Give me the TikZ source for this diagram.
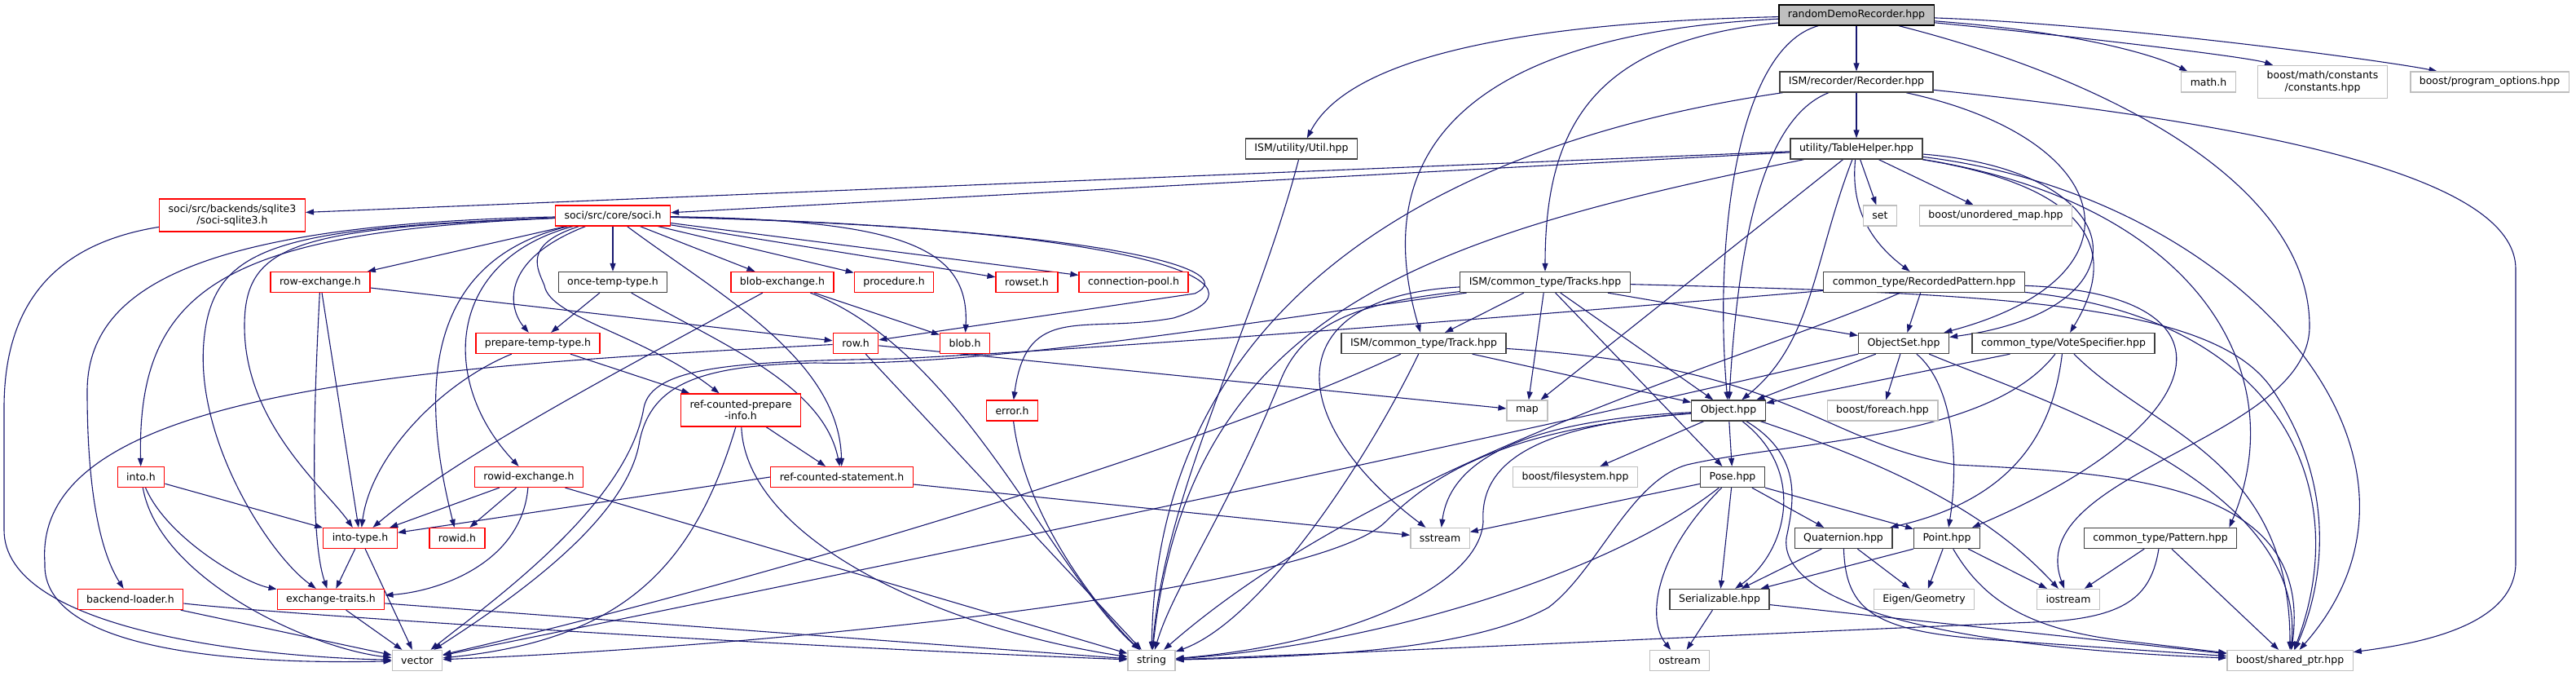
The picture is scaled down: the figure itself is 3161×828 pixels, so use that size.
\documentclass[tikz,border=0pt]{standalone}
\usepackage{fontspec}
\setmainfont{DejaVu Sans}
\usetikzlibrary{arrows.meta}
\definecolor{edgec}{HTML}{191970}
\definecolor{darkb}{HTML}{404040}
\definecolor{lightb}{HTML}{BFBFBF}
\pgfdeclarelayer{bg}
\pgfsetlayers{bg,main}
\begin{document}
\begin{tikzpicture}[x=1pt,y=-1pt,
  nbox/.style={draw, line width=1.3pt, font=\fontsize{12.5pt}{14.5pt}\selectfont, inner xsep=11pt, inner ysep=2pt, minimum height=25pt, fill=white, text=black},
  dk/.style={nbox, draw=darkb},
  rd/.style={nbox, draw=red},
  lt/.style={nbox, draw=lightb},
  rt/.style={nbox, draw=black, fill=lightb},
  two/.style={align=center, minimum height=40pt},
  edg/.style={draw=edgec, line width=1.1pt, -{Triangle[length=10pt,width=7pt]}}
]
\useasboundingbox (0,0) rectangle (3161,828);
% nodes
\node[rt] (R0) at (2278,18.5) {randomDemoRecorder.hpp};
\node[dk] (rec) at (2278,100.5) {ISM/recorder/Recorder.hpp};
\node[dk] (th) at (2278,182.5) {utility/TableHelper.hpp};
\node[dk] (util) at (1597,182.5) {ISM/utility/Util.hpp};
\node[lt] (mathh) at (2710,100.5) {math.h};
\node[lt,two] (const) at (2850,100.5) {boost/math/constants\\/constants.hpp};
\node[lt] (popt) at (3055,100.5) {boost/program\_options.hpp};
\node[rd,two] (sqlite) at (285,264) {soci/src/backends/sqlite3\\/soci-sqlite3.h};
\node[rd] (soci) at (752,264.5) {soci/src/core/soci.h};
\node[lt] (set) at (2307,264.5) {set};
\node[lt] (umap) at (2449,264.5) {boost/unordered\_map.hpp};
\node[rd] (rowex) at (393,346) {row-exchange.h};
\node[dk] (once) at (752,346) {once-temp-type.h};
\node[rd] (blobex) at (960,346) {blob-exchange.h};
\node[rd] (proc) at (1097,346) {procedure.h};
\node[rd] (rowset) at (1260,346) {rowset.h};
\node[rd] (cpool) at (1391,346) {connection-pool.h};
\node[dk] (tracks) at (1896,346) {ISM/common\_type/Tracks.hpp};
\node[dk] (recpat) at (2361,346) {common\_type/RecordedPattern.hpp};
\node[rd] (prep) at (660,421) {prepare-temp-type.h};
\node[rd] (row) at (1050,421) {row.h};
\node[rd] (blob) at (1184,421) {blob.h};
\node[dk] (track) at (1747,421) {ISM/common\_type/Track.hpp};
\node[dk] (objset) at (2336,421) {ObjectSet.hpp};
\node[dk] (vote) at (2532,421) {common\_type/VoteSpecifier.hpp};
\node[rd,two] (rcpi) at (909,503) {ref-counted-prepare\\-info.h};
\node[rd] (error) at (1242,503.5) {error.h};
\node[lt] (map) at (1874,503.5) {map};
\node[dk] (object) at (2121,503.5) {Object.hpp};
\node[lt] (foreach) at (2310,503.5) {boost/foreach.hpp};
\node[rd] (into) at (173,585) {into.h};
\node[rd] (rowidex) at (649,585) {rowid-exchange.h};
\node[rd] (rcs) at (1033,585) {ref-counted-statement.h};
\node[lt] (fs) at (1933,585) {boost/filesystem.hpp};
\node[dk] (pose) at (2126,585) {Pose.hpp};
\node[rd] (intotype) at (442,660) {into-type.h};
\node[rd] (rowid) at (561,660) {rowid.h};
\node[lt] (sstream) at (1767,660) {sstream};
\node[dk] (quat) at (2262,660) {Quaternion.hpp};
\node[dk] (point) at (2389,660) {Point.hpp};
\node[dk] (pattern) at (2651,660) {common\_type/Pattern.hpp};
\node[rd] (bload) at (160,735) {backend-loader.h};
\node[rd] (extr) at (406,735) {exchange-traits.h};
\node[dk] (serial) at (2110,735) {Serializable.hpp};
\node[lt] (eigen) at (2361,735) {Eigen/Geometry};
\node[lt] (iostream) at (2538,735) {iostream};
\node[lt] (vector) at (512,810) {vector};
\node[lt] (string) at (1413,810) {string};
\node[lt] (ostream) at (2061,810) {ostream};
\node[lt] (sptr) at (2810,810) {boost/shared\_ptr.hpp};

\begin{pgfonlayer}{bg}
% randomDemoRecorder
\draw[edg] (R0) .. controls (1760,30) and (1640,100) .. (util);
\draw[edg] (R0) .. controls (1740,45) and (1690,230) .. (track);
\draw[edg] (R0) .. controls (1960,50) and (1896,150) .. (tracks);
\draw[edg] (R0) .. controls (2130,60) and (2103,300) .. (object);
\draw[edg] (R0) -- (rec);
\draw[edg] (R0) .. controls (2600,100) and (2834,230) .. (2834,400) .. controls (2834,540) and (2480,580) .. (iostream);
\draw[edg] (R0) .. controls (2560,40) and (2650,70) .. (mathh);
\draw[edg] (R0) .. controls (2550,45) and (2760,70) .. (const);
\draw[edg] (R0) .. controls (2600,30) and (2930,75) .. (popt);
% Recorder
\draw[edg] (rec) -- (th);
\draw[edg] (rec) .. controls (1800,170) and (1420,350) .. (string);
\draw[edg] (rec) .. controls (2150,150) and (2130,350) .. (object);
\draw[edg] (rec) .. controls (2600,170) and (2640,340) .. (objset);
\draw[edg] (rec) .. controls (2850,160) and (3087,230) .. (3087,330) -- (3087,690) .. controls (3087,770) and (2960,790) .. (sptr);
% TableHelper
\draw[edg] (th) -- (sqlite);
\draw[edg] (th) -- (soci);
\draw[edg] (th) -- (set);
\draw[edg] (th) -- (umap);
\draw[edg] (th) .. controls (2270,260) and (2300,300) .. (recpat);
\draw[edg] (th) .. controls (1750,290) and (1460,380) .. (string);
\draw[edg] (th) -- (map);
\draw[edg] (th) .. controls (2225,320) and (2225,420) .. (object);
\draw[edg] (th) .. controls (2620,210) and (2640,380) .. (objset);
\draw[edg] (th) .. controls (2570,230) and (2600,310) .. (vote);
\draw[edg] (th) .. controls (2700,250) and (2815,460) .. ([xshift=-10pt]pattern.north east);
\draw[edg] (th) .. controls (2750,240) and (3030,560) .. (sptr);
% Util
\draw[edg] (util) .. controls (1540,400) and (1430,600) .. (string);
% sqlite
\draw[edg] (sqlite) .. controls (60,300) and (5,380) .. (5,500) -- (5,650) .. controls (5,770) and (300,805) .. (vector);
% soci.h
\draw[edg] (soci) .. controls (250,275) and (107,350) .. (107,480) .. controls (107,610) and (125,680) .. (bload);
\draw[edg] (soci) .. controls (280,285) and (168,350) .. (into);
\draw[edg] (soci) .. controls (340,280) and (260,300) .. (250,420) .. controls (240,540) and (330,680) .. (extr);
\draw[edg] (soci) .. controls (360,280) and (300,300) .. (300,400) .. controls (300,520) and (400,600) .. (intotype);
\draw[edg] (soci) -- (rowex);
\draw[edg] (soci) .. controls (520,320) and (515,480) .. (rowid);
\draw[edg] (soci) .. controls (545,320) and (540,470) .. (rowidex);
\draw[edg] (soci) .. controls (610,320) and (625,380) .. (prep);
\draw[edg] (soci) .. controls (640,300) and (660,330) .. (668,350) .. controls (675,390) and (790,410) .. (rcpi);
\draw[edg] (soci) -- (once);
\draw[edg] (soci) .. controls (880,360) and (1030,440) .. (rcs);
\draw[edg] (soci) -- (blobex);
\draw[edg] (soci) -- (proc);
\draw[edg] (soci) -- (rowset);
\draw[edg] (soci) -- (cpool);
\draw[edg] (soci) .. controls (1100,270) and (1190,300) .. (blob);
\draw[edg] (soci) .. controls (1350,280) and (1530,330) .. (1466,360) -- (row);
\draw[edg] (soci) .. controls (1420,280) and (1570,350) .. (1440,390) .. controls (1330,410) and (1260,370) .. (error);
% row-exchange
\draw[edg] (rowex) -- (row);
\draw[edg] (rowex) -- (intotype);
\draw[edg] (rowex) .. controls (385,500) and (380,660) .. (extr);
% once-temp-type
\draw[edg] (once) -- (prep);
\draw[edg] (once) .. controls (880,420) and (1010,470) .. (rcs);
% blob-exchange
\draw[edg] (blobex) -- (blob);
\draw[edg] (blobex) .. controls (750,460) and (560,560) .. (intotype);
\draw[edg] (blobex) .. controls (1180,430) and (1290,700) .. (string);
% prepare-temp-type
\draw[edg] (prep) .. controls (540,470) and (455,560) .. (intotype);
\draw[edg] (prep) -- (rcpi);
% row.h
\draw[edg] (row) .. controls (500,450) and (40,480) .. (55,690) .. controls (50,800) and (300,815) .. (vector);
\draw[edg] (row) -- (string);
\draw[edg] (row) -- (map);
% ref-counted-prepare-info
\draw[edg] (rcpi) -- (rcs);
\draw[edg] (rcpi) .. controls (850,700) and (760,785) .. (vector);
\draw[edg] (rcpi) .. controls (915,660) and (1150,770) .. (string);
% ref-counted-statement
\draw[edg] (rcs.west) -- (intotype);
\draw[edg] (rcs) -- (sstream);
% error
\draw[edg] (error) .. controls (1260,650) and (1370,770) .. (string);
% into.h
\draw[edg] (into) -- (intotype);
\draw[edg] (into) .. controls (205,660) and (300,715) .. (extr);
\draw[edg] (into) .. controls (195,710) and (380,795) .. (vector);
% rowid-exchange
\draw[edg] (rowidex) -- (intotype);
\draw[edg] (rowidex) -- (rowid);
\draw[edg] (rowidex) .. controls (640,690) and (540,725) .. (extr);
\draw[edg] (rowidex) -- (string);
% into-type
\draw[edg] (intotype) -- (extr);
\draw[edg] (intotype) -- (vector);
% backend-loader
\draw[edg] (bload) -- (vector);
\draw[edg] ([yshift=-5pt]bload.east) .. controls (330,752) and (900,790) .. (string);
% exchange-traits
\draw[edg] (extr) -- (vector);
\draw[edg] (extr) -- (string);
% Tracks
\draw[edg] (tracks) -- (track);
\draw[edg] (tracks) -- (map);
\draw[edg] (tracks) -- (object);
\draw[edg] (tracks) -- (pose);
\draw[edg] (tracks) -- (objset);
\draw[edg] (tracks) .. controls (1500,400) and (1200,450) .. (1000,445) .. controls (860,448) and (800,470) .. (785,540) .. controls (770,640) and (620,740) .. (vector);
\draw[edg] (tracks) .. controls (1680,370) and (1600,390) .. (1570,470) .. controls (1500,640) and (1440,720) .. (string);
\draw[edg] (tracks) .. controls (1560,365) and (1580,520) .. (sstream);
\draw[edg] (tracks) .. controls (2450,360) and (2720,370) .. (2790,480) .. controls (2870,600) and (2850,720) .. (sptr);
% Track
\draw[edg] (track) -- (object);
\draw[edg] (track) .. controls (1450,560) and (900,720) .. (vector);
\draw[edg] (track) .. controls (1680,560) and (1550,760) .. (string);
\draw[edg] (track) .. controls (2200,450) and (2230,540) .. (2400,570) .. controls (2600,580) and (2840,590) .. (sptr);
% RecordedPattern
\draw[edg] (recpat) -- (objset);
\draw[edg] (recpat) .. controls (2760,360) and (2720,520) .. (point);
\draw[edg] (recpat) .. controls (2800,390) and (2890,600) .. (sptr);
\draw[edg] (recpat) .. controls (1900,385) and (1400,425) .. (1100,440) .. controls (900,443) and (800,450) .. (790,500) .. controls (770,620) and (600,740) .. (vector);
\draw[edg] (recpat) .. controls (2150,440) and (1700,560) .. (string);
% ObjectSet
\draw[edg] (objset) -- (object);
\draw[edg] (objset) -- (foreach);
\draw[edg] (objset) .. controls (2395,470) and (2405,560) .. (point);
\draw[edg] (objset) .. controls (2500,490) and (2830,590) .. (sptr);
\draw[edg] (objset) .. controls (2000,500) and (1500,610) .. (vector);
% VoteSpecifier
\draw[edg] (vote) -- (object);
\draw[edg] (vote) .. controls (2520,520) and (2480,610) .. (quat);
\draw[edg] (vote) .. controls (2440,540) and (2200,540) .. (2070,570) .. controls (2000,590) and (1960,700) .. (1900,745) .. controls (1800,800) and (1600,805) .. (string);
\draw[edg] (vote) .. controls (2640,530) and (2810,560) .. (sptr);
% Object
\draw[edg] (object) -- (pose);
\draw[edg] (object) -- (fs);
\draw[edg] (object) .. controls (1880,515) and (1780,560) .. (sstream);
\draw[edg] (object) .. controls (1900,520) and (1815,560) .. (1820,640) .. controls (1815,720) and (1650,790) .. (string);
\draw[edg] (object) .. controls (1850,525) and (1760,580) .. (1700,640) .. controls (1620,720) and (1000,790) .. (vector);
\draw[edg] (object) .. controls (2220,580) and (2190,680) .. (serial);
\draw[edg] (object) .. controls (2215,560) and (2200,620) .. (2192,660) .. controls (2185,720) and (2300,790) .. (sptr);
\draw[edg] (object) .. controls (2350,580) and (2450,640) .. (iostream);
% Pose
\draw[edg] (pose) -- (quat);
\draw[edg] (pose.south east) -- (point);
\draw[edg] (pose) -- (serial);
\draw[edg] (pose) -- (sstream);
\draw[edg] (pose) .. controls (1980,700) and (1700,790) .. (string);
\draw[edg] (pose) .. controls (2030,680) and (2020,760) .. (ostream);
% Quaternion
\draw[edg] (quat) -- (serial);
\draw[edg] (quat) -- (eigen);
\draw[edg] (quat) .. controls (2265,750) and (2300,775) .. (2450,785) -- (sptr);
% Point
\draw[edg] (point.south west) -- (serial);
\draw[edg] (point) -- (eigen);
\draw[edg] (point) -- (iostream);
\draw[edg] (point) .. controls (2430,730) and (2480,770) .. (2600,785) -- (sptr);
% Pattern
\draw[edg] (pattern) -- (iostream);
\draw[edg] (pattern) .. controls (2640,730) and (2610,755) .. (2520,762) .. controls (2200,775) and (1800,795) .. (string);
\draw[edg] (pattern) -- (sptr);
% Serializable
\draw[edg] (serial) -- (ostream);
\draw[edg] (serial) -- (sptr);
\end{pgfonlayer}
\end{tikzpicture}
\end{document}
